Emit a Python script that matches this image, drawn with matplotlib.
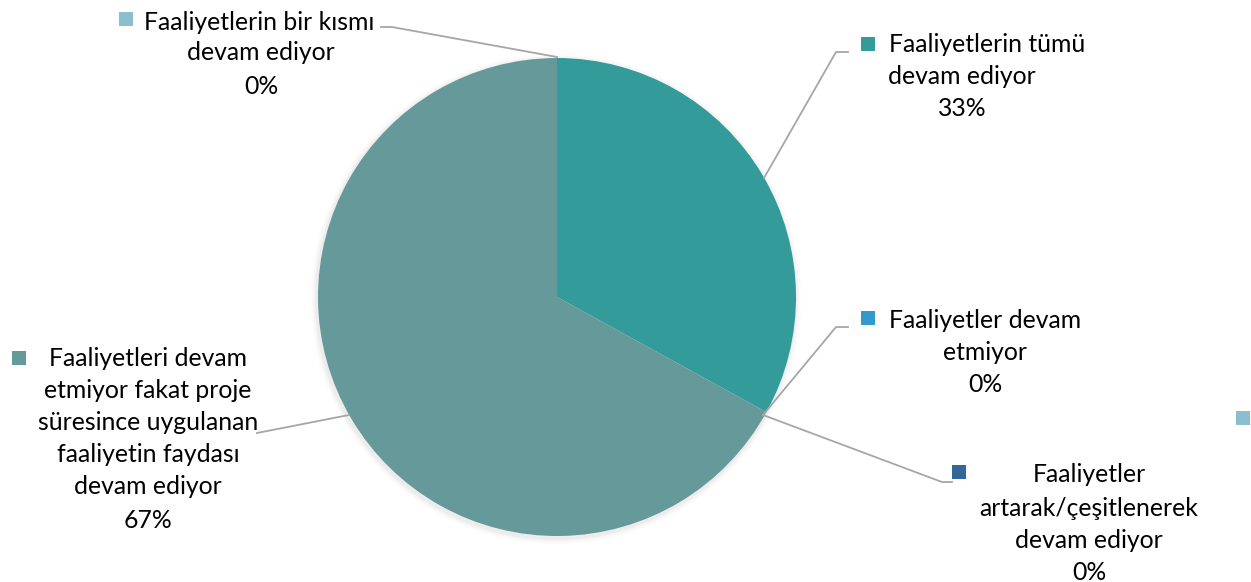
import matplotlib.pyplot as plt
from matplotlib.patches import Circle, Rectangle

# data, in the order the slices run clockwise from 12 o'clock
categories = ["Faaliyetlerin tümü\ndevam ediyor",
              "Faaliyetler devam\netmiyor",
              "Faaliyetler\nartarak/çeşitlenerek\ndevam ediyor",
              "Faaliyetleri devam\netmiyor fakat proje\nsüresince uygulanan\nfaaliyetin faydası\ndevam ediyor",
              "Faaliyetlerin bir kısmı\ndevam ediyor"]
percents = [33, 0, 0, 67, 0]

colors = ["#339b99", "#3399cc", "#336699", "#669999", "#8bbfcf"]

W, H = 1251, 582
cx, cy, r = 557, H - 297, 239

fig = plt.figure(figsize=(W / 100, H / 100), dpi=100)
ax = fig.add_axes([0, 0, 1, 1])

# soft shadow
for k, a in [(6, 0.03), (4, 0.05), (2, 0.08)]:
    ax.add_patch(Circle((cx - 1, cy - 2), r + k, color="#888888", alpha=a, lw=0, zorder=0))

ax.pie(percents, colors=colors, startangle=90, counterclock=False,
       center=(cx, cy), radius=r, frame=True,
       wedgeprops=dict(linewidth=0))
ax.set_xlim(0, W)
ax.set_ylim(0, H)
ax.set_aspect("equal")
ax.axis("off")

font = "Lato"
fs = 17.8
line_col = "#a6a6a6"

# label layout: marker centre, left of first line, centre of other lines, y of lines (from top)
layout = [
    ((868, 44), 889, 962, [45, 77, 109]),
    ((868, 318), 889, 985, [320, 352, 384]),
    ((959, 472), 1033, 1089, [474, 508, 540, 572]),
    ((19, 358), 49, 148, [358, 390, 422, 455, 487, 521]),
    ((126, 19), 144, 261, [22, 53, 86]),
]
leaders = [
    [(764, 178), (836, 52), (848, 52)],
    [(763, 415), (836, 327), (848, 327)],
    [(763, 415), (942, 482), (952, 482)],
    [(349, 415), (257, 433)],
    [(557, 57), (392, 27), (381, 27)],
]

for cat, p, col, (mk, x1, xc, ys), ld in zip(categories, percents, colors, layout, leaders):
    lines = cat.split("\n") + [f"{p}%"]
    ax.add_patch(Rectangle((mk[0] - 7, H - mk[1] - 7), 14, 14, color=col, lw=0))
    for i, (t, y) in enumerate(zip(lines, ys)):
        if i == 0:
            ax.text(x1, H - y, t, ha="left", va="center", fontsize=fs, family=font, color="black")
        else:
            ax.text(xc, H - y, t, ha="center", va="center", fontsize=fs, family=font, color="black")
    ax.plot([q[0] for q in ld], [H - q[1] for q in ld], color=line_col, lw=1.3, zorder=1)

# partly hidden label at the right edge
ax.add_patch(Rectangle((1236, H - 425), 14, 14, color="#8bbfcf", lw=0))

fig.savefig("out.png", dpi=100)
